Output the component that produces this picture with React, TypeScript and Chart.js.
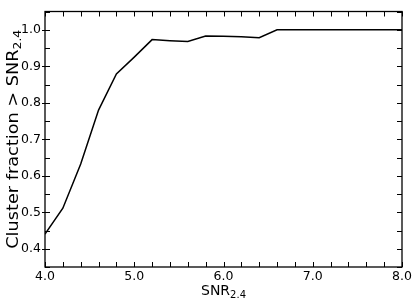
import React, { useEffect, useRef } from "react";
import { Chart, registerables } from "chart.js";

Chart.register(...registerables);

const xValues = [4.0, 4.2, 4.4, 4.6, 4.8, 5.0, 5.2, 5.4, 5.6, 5.8, 6.0, 6.2, 6.4, 6.6, 6.8, 7.0, 7.2, 7.4, 7.6, 7.8, 8.0];
const fractions = [0.44, 0.511, 0.632, 0.78, 0.879, 0.925, 0.973, 0.97, 0.968, 0.983, 0.982, 0.981, 0.978, 1.0, 1.0, 1.0, 1.0, 1.0, 1.0, 1.0, 1.0];
const xTitleMain = "SNR";
const xTitleSub = "2.4";
const yTitleMain = "Cluster fraction > SNR";
const yTitleSub = "2.4";

const FONT = "'DejaVu Sans', sans-serif";

const isMultiple = (v: number, step: number) => Math.abs(v / step - Math.round(v / step)) < 1e-6;

const framePlugin = {
  id: "frameTicks",
  afterDatasetsDraw(chart: any) {
    const { ctx, chartArea } = chart;
    const { left, right, top, bottom } = chartArea;
    const xs = chart.scales.x;
    const ys = chart.scales.y;
    ctx.save();
    ctx.strokeStyle = "#000";
    ctx.lineWidth = 1.3;
    ctx.strokeRect(left, top, right - left, bottom - top);
    ctx.lineWidth = 1;
    const tl = 5;
    ctx.beginPath();
    xs.ticks.forEach((t: any) => {
      const px = Math.round(xs.getPixelForValue(t.value)) + 0.5;
      ctx.moveTo(px, bottom);
      ctx.lineTo(px, bottom - tl);
      ctx.moveTo(px, top);
      ctx.lineTo(px, top + tl);
    });
    ys.ticks.forEach((t: any) => {
      const py = Math.round(ys.getPixelForValue(t.value)) + 0.5;
      const major = isMultiple(t.value, 0.1);
      ctx.moveTo(left - (major ? 3 : 0), py);
      ctx.lineTo(left + tl, py);
      ctx.moveTo(right, py);
      ctx.lineTo(right - tl, py);
    });
    ctx.stroke();

    ctx.fillStyle = "#000";
    // x title
    const mainSize = 14;
    const subSize = 10;
    ctx.font = `${mainSize}px ${FONT}`;
    const wMain = ctx.measureText(xTitleMain).width;
    ctx.font = `${subSize}px ${FONT}`;
    const wSub = ctx.measureText(xTitleSub).width;
    const cx = (left + right) / 2;
    const baseY = 295;
    ctx.textBaseline = "alphabetic";
    ctx.textAlign = "left";
    ctx.save();
    ctx.translate(cx, baseY);
    const sx0 = -(wMain + wSub) / 2;
    ctx.font = `${mainSize}px ${FONT}`;
    ctx.fillText(xTitleMain, sx0, 0);
    ctx.font = `${subSize}px ${FONT}`;
    ctx.fillText(xTitleSub, sx0 + wMain, 2.5);
    ctx.restore();

    // y title
    const yMain = 15;
    const ySub = 10.5;
    ctx.font = `${yMain}px ${FONT}`;
    const wyMain = ctx.measureText(yTitleMain).width;
    ctx.font = `${ySub}px ${FONT}`;
    const wySub = ctx.measureText(yTitleSub).width;
    const cy = (top + bottom) / 2;
    ctx.save();
    ctx.translate(18, cy);
    ctx.rotate(-Math.PI / 2);
    ctx.scale(1.18, 1);
    const sy0 = -(wyMain + wySub) / 2;
    ctx.font = `${yMain}px ${FONT}`;
    ctx.fillText(yTitleMain, sy0, 0);
    ctx.font = `${ySub}px ${FONT}`;
    ctx.fillText(yTitleSub, sy0 + wyMain, 2.5);
    ctx.restore();
    ctx.restore();
  },
};

export default function App() {
  const ref = useRef<HTMLCanvasElement | null>(null);
  useEffect(() => {
    document.body.style.margin = "0";
    if (!ref.current) return;
    const chart = new Chart(ref.current, {
      type: "line",
      data: {
        datasets: [
          {
            data: xValues.map((x, i) => ({ x, y: fractions[i] })),
            borderColor: "#000",
            borderWidth: 1.5,
            pointRadius: 0,
            fill: false,
            tension: 0,
          },
        ],
      },
      options: {
        responsive: false,
        animation: false,
        layout: { padding: { top: 5, right: 13, left: 0, bottom: 0 } },
        plugins: { legend: { display: false }, tooltip: { enabled: false } },
        scales: {
          x: {
            type: "linear",
            min: 4,
            max: 8,
            grid: { display: false, drawTicks: false },
            border: { display: false },
            afterFit: (s: any) => {
              s.height = 33;
            },
            ticks: {
              stepSize: 0.2,
              autoSkip: false,
              maxRotation: 0,
              padding: 2,
              color: "#000",
              font: { family: FONT, size: 12.5 },
              callback: (v: any) => (isMultiple(Number(v), 1) ? Number(v).toFixed(1) : ""),
            },
          },
          y: {
            type: "linear",
            min: 0.35,
            max: 1.05,
            grid: { display: false, drawTicks: false },
            border: { display: false },
            afterFit: (s: any) => {
              s.width = 45;
            },
            ticks: {
              stepSize: 0.05,
              autoSkip: false,
              padding: 4,
              color: "#000",
              font: { family: FONT, size: 12.5 },
              callback: (v: any) => (isMultiple(Number(v), 0.1) ? Number(v).toFixed(1) : ""),
            },
          },
        },
      },
      plugins: [framePlugin],
    });
    return () => chart.destroy();
  }, []);
  return <canvas ref={ref} width={415} height={300} style={{ display: "block", width: 415, height: 300 }} />;
}
